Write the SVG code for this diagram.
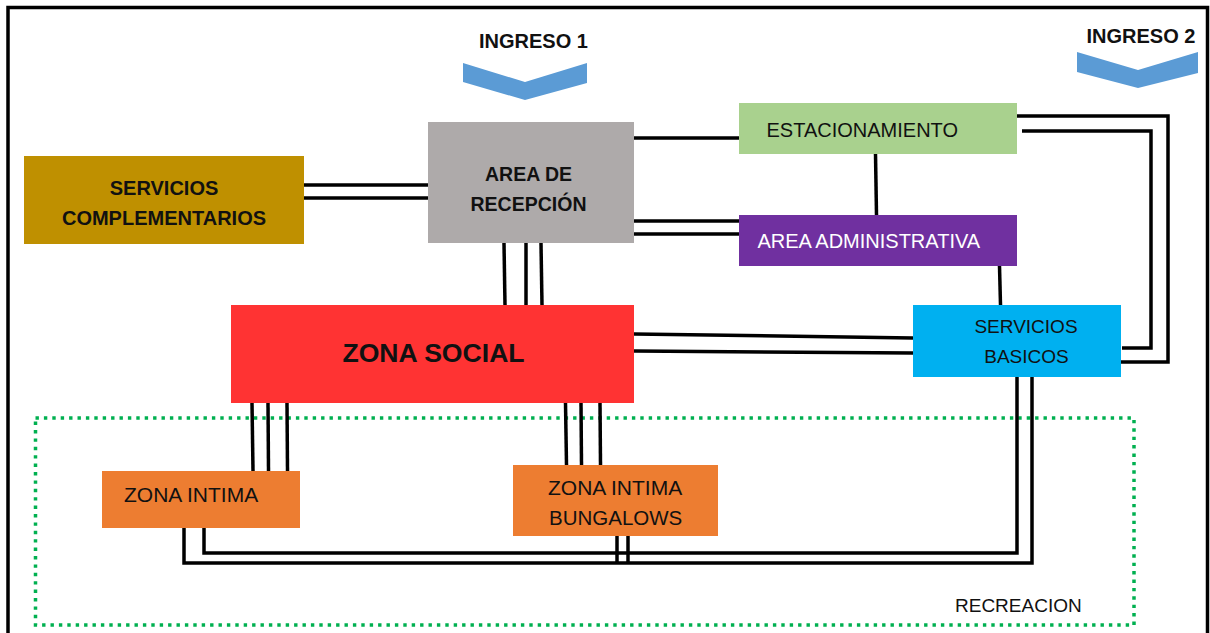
<svg xmlns="http://www.w3.org/2000/svg" width="1210" height="633" viewBox="0 0 1210 633">
  <style>
    .lbl { font-family: "Liberation Sans", Arial, sans-serif; font-size: 20px; fill: #111; }
    .b { font-weight: bold; }
    .w { fill: #fff; }
    .c { text-anchor: middle; }
    .ln { fill: none; stroke: #000; stroke-width: 3.5; stroke-linejoin: miter; }
    .chev { fill: #5b9bd5; }
  </style>

  <rect width="1210" height="633" fill="#fff"/>
  <!-- outer frame -->
  <rect x="8" y="7.5" width="1199.5" height="640" fill="none" stroke="#000" stroke-width="3.5"/>

  <!-- recreation area (dotted) -->
  <g id="recreacion">
    <rect x="35.5" y="418" width="1098.5" height="207" fill="none" stroke="#00b050" stroke-width="3.5" stroke-dasharray="3.4 5"/>
    <text class="lbl" x="955" y="612" style="font-size:19px">RECREACION</text>
  </g>

  <!-- entrances -->
  <g id="ingreso1">
    <text class="lbl b c" x="533.5" y="48">INGRESO 1</text>
    <polygon class="chev" points="463,63 525,82 587,63 587,83 525,100 463,82"/>
  </g>
  <g id="ingreso2">
    <text class="lbl b c" x="1141" y="43">INGRESO 2</text>
    <polygon class="chev" points="1077,52 1138,70 1198,52 1198,73 1138,88 1077,72"/>
  </g>

  <!-- connectors -->
  <g id="connectors">
    <line class="ln" x1="304" y1="185" x2="428" y2="185"/>
    <line class="ln" x1="304" y1="198" x2="428" y2="198"/>
    <line class="ln" x1="634" y1="138" x2="739" y2="138"/>
    <line class="ln" x1="634" y1="221" x2="739" y2="221"/>
    <line class="ln" x1="634" y1="234" x2="739" y2="234"/>
    <line class="ln" x1="875.5" y1="154" x2="876.5" y2="215"/>
    <line class="ln" x1="999.5" y1="266" x2="1000.5" y2="305"/>
    <line class="ln" x1="504" y1="243" x2="505" y2="305"/>
    <line class="ln" x1="526" y1="243" x2="526" y2="305"/>
    <line class="ln" x1="541" y1="243" x2="542" y2="305"/>
    <line class="ln" x1="634" y1="334" x2="913" y2="338"/>
    <line class="ln" x1="634" y1="351" x2="913" y2="353"/>
    <polyline class="ln" points="1017,116 1168,116 1168,362 1121,362"/>
    <polyline class="ln" points="1022,131 1151,131 1151,348 1122,348"/>
    <line class="ln" x1="252" y1="403" x2="253" y2="471"/>
    <line class="ln" x1="268" y1="403" x2="268.5" y2="471"/>
    <line class="ln" x1="287" y1="403" x2="287.5" y2="471"/>
    <line class="ln" x1="565.5" y1="403" x2="566.5" y2="465"/>
    <line class="ln" x1="581" y1="403" x2="581.5" y2="465"/>
    <line class="ln" x1="600" y1="403" x2="600.5" y2="465"/>
    <polyline class="ln" points="204,528 204,553 1017,553 1017,377"/>
    <polyline class="ln" points="184,528 184,563 1032,563 1032,377"/>
    <line class="ln" x1="617" y1="536" x2="617" y2="563"/>
    <line class="ln" x1="628" y1="536" x2="628" y2="563"/>
  </g>

  <!-- nodes -->
  <g id="servicios-complementarios">
    <rect x="24" y="156" width="280" height="88" fill="#bf9000"/>
    <text class="lbl b c" x="164" y="195">SERVICIOS</text>
    <text class="lbl b c" x="164" y="225">COMPLEMENTARIOS</text>
  </g>
  <g id="area-recepcion">
    <rect x="428" y="122" width="206" height="121" fill="#aeaaaa"/>
    <text class="lbl b c" x="528.5" y="181" style="font-size:19.5px">AREA DE</text>
    <text class="lbl b c" x="528.5" y="211" style="font-size:19.5px">RECEPCIÓN</text>
  </g>
  <g id="estacionamiento">
    <rect x="739" y="103" width="278" height="51" fill="#a9d18e"/>
    <text class="lbl" x="766.5" y="137">ESTACIONAMIENTO</text>
  </g>
  <g id="area-administrativa">
    <rect x="739" y="215" width="278" height="51" fill="#7030a0"/>
    <text class="lbl w" x="757.5" y="248">AREA ADMINISTRATIVA</text>
  </g>
  <g id="zona-social">
    <rect x="231" y="305" width="403" height="98" fill="#ff3333"/>
    <text class="lbl b c" x="433.5" y="362" style="font-size:26.6px">ZONA SOCIAL</text>
  </g>
  <g id="servicios-basicos">
    <rect x="913" y="305" width="208" height="72" fill="#00b0f0"/>
    <text class="lbl c" x="1026" y="333" style="font-size:19px">SERVICIOS</text>
    <text class="lbl c" x="1026.5" y="363" style="font-size:19px">BASICOS</text>
  </g>
  <g id="zona-intima">
    <rect x="102" y="471" width="198" height="57" fill="#ed7d31"/>
    <text class="lbl" x="124" y="502" style="font-size:21px">ZONA INTIMA</text>
  </g>
  <g id="zona-intima-bungalows">
    <rect x="513" y="465" width="205" height="71" fill="#ed7d31"/>
    <text class="lbl" x="548" y="495" style="font-size:21px">ZONA INTIMA</text>
    <text class="lbl" x="549" y="525" style="font-size:20.5px">BUNGALOWS</text>
  </g>
</svg>
